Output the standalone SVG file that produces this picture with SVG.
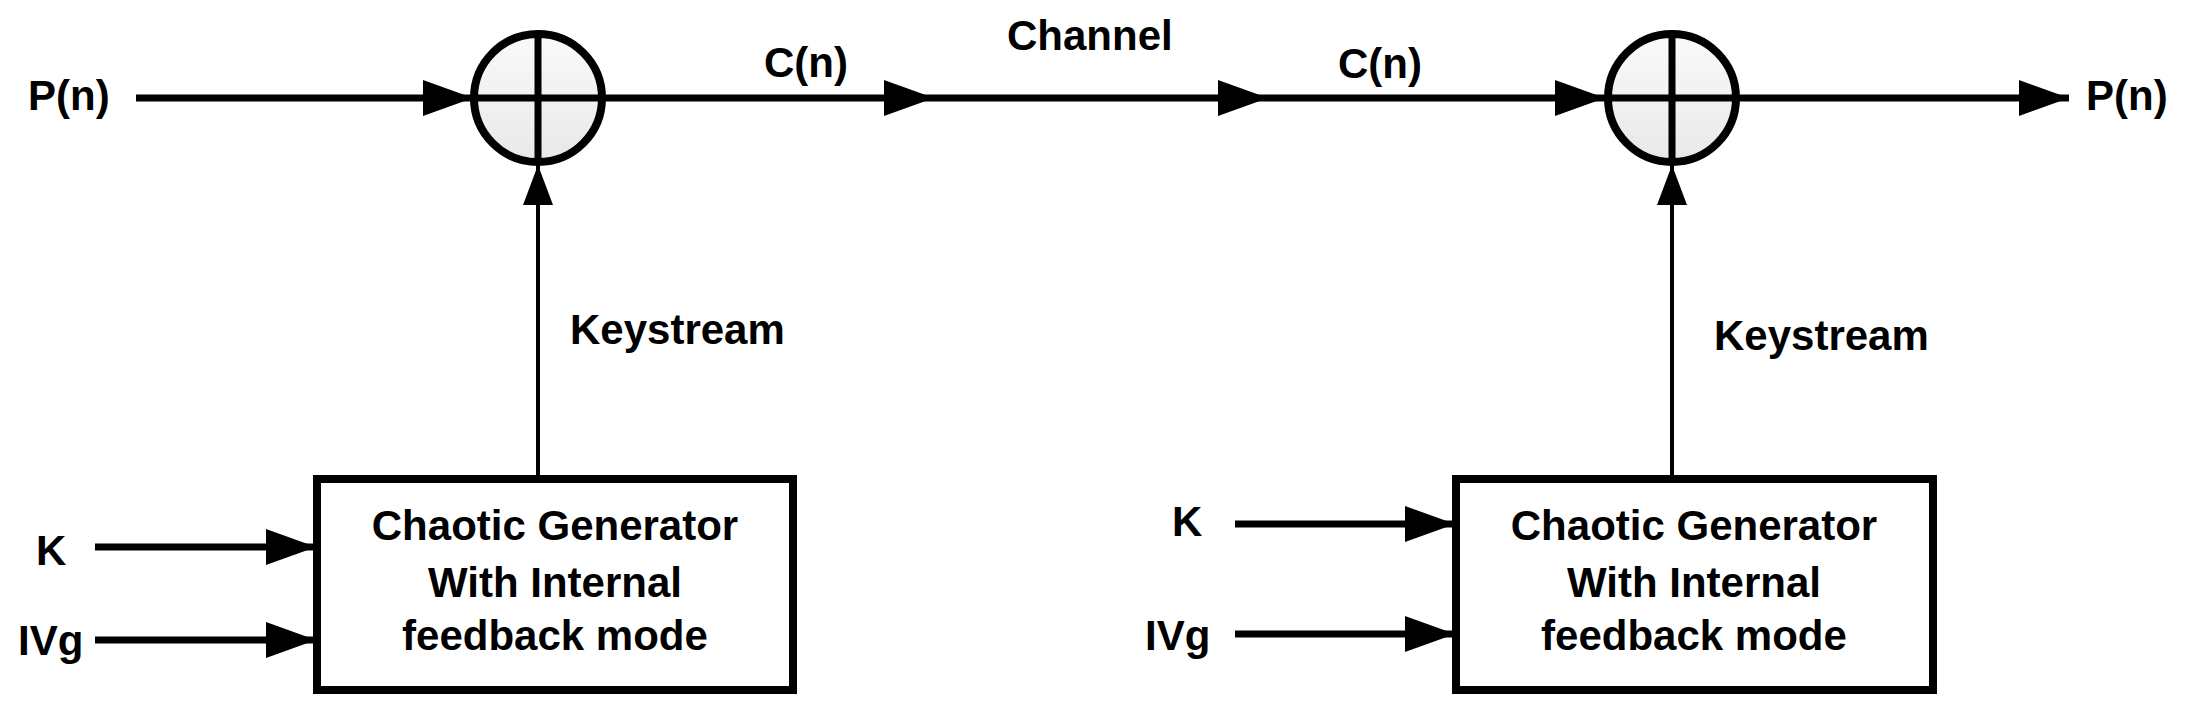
<svg xmlns="http://www.w3.org/2000/svg" width="2194" height="715" viewBox="0 0 2194 715">
<defs>
<marker id="ah" markerWidth="50" markerHeight="36" refX="50" refY="18" orient="auto" markerUnits="userSpaceOnUse"><path d="M0,0 L50,18 L0,36 Z" fill="#000"/></marker>
<marker id="av" markerWidth="40" markerHeight="30" refX="40" refY="15" orient="auto" markerUnits="userSpaceOnUse"><path d="M0,0 L40,15 L0,30 Z" fill="#000"/></marker>
<linearGradient id="g" x1="0" y1="0" x2="0" y2="1"><stop offset="0" stop-color="#fafafa"/><stop offset="1" stop-color="#e8e8e8"/></linearGradient>
</defs>
<style>
text{font-family:"Liberation Sans",Arial,sans-serif;font-weight:bold;font-size:42px;fill:#000}
.m{text-anchor:middle}
.w{stroke:#000;stroke-width:7;fill:none}
.t{stroke:#000;stroke-width:4;fill:none}
.box{fill:#fff;stroke:#000;stroke-width:8}
.xor{fill:url(#g);stroke:#000;stroke-width:8}
</style>
<rect width="2194" height="715" fill="#fff"/>
<g id="connectors">
<line class="w" x1="136" y1="98" x2="473" y2="98" marker-end="url(#ah)"/>
<line class="w" x1="605" y1="98" x2="934" y2="98" marker-end="url(#ah)"/>
<line class="w" x1="934" y1="98" x2="1268" y2="98" marker-end="url(#ah)"/>
<line class="w" x1="1268" y1="98" x2="1605" y2="98" marker-end="url(#ah)"/>
<line class="w" x1="1739" y1="98" x2="2069" y2="98" marker-end="url(#ah)"/>
<line class="t" x1="538" y1="479" x2="538" y2="165" marker-end="url(#av)"/>
<line class="t" x1="1672" y1="479" x2="1672" y2="165" marker-end="url(#av)"/>
<line class="w" x1="95" y1="547" x2="316" y2="547" marker-end="url(#ah)"/>
<line class="w" x1="95" y1="640" x2="316" y2="640" marker-end="url(#ah)"/>
<line class="w" x1="1235" y1="524" x2="1455" y2="524" marker-end="url(#ah)"/>
<line class="w" x1="1235" y1="634" x2="1455" y2="634" marker-end="url(#ah)"/>
</g>
<g id="xor1"><circle class="xor" cx="538" cy="98" r="64"/><path class="w" d="M474,98 H602 M538,34 V162"/></g>
<g id="xor2"><circle class="xor" cx="1672" cy="98" r="64"/><path class="w" d="M1608,98 H1736 M1672,34 V162"/></g>
<g id="gen1"><rect class="box" x="317" y="479" width="476" height="211"/>
<text class="m" x="555" y="540">Chaotic Generator</text><text class="m" x="555" y="597">With Internal</text><text class="m" x="555" y="650">feedback mode</text></g>
<g id="gen2"><rect class="box" x="1456" y="479" width="477" height="211"/>
<text class="m" x="1694" y="540">Chaotic Generator</text><text class="m" x="1694" y="597">With Internal</text><text class="m" x="1694" y="650">feedback mode</text></g>
<g id="labels">
<text x="28" y="110">P(n)</text>
<text x="764" y="77">C(n)</text>
<text x="1007" y="50">Channel</text>
<text x="1338" y="78">C(n)</text>
<text x="2086" y="110">P(n)</text>
<text x="570" y="344">Keystream</text>
<text x="1714" y="350">Keystream</text>
<text x="36" y="565">K</text>
<text x="18" y="655">IVg</text>
<text x="1172" y="536">K</text>
<text x="1145" y="650">IVg</text>
</g>
</svg>
